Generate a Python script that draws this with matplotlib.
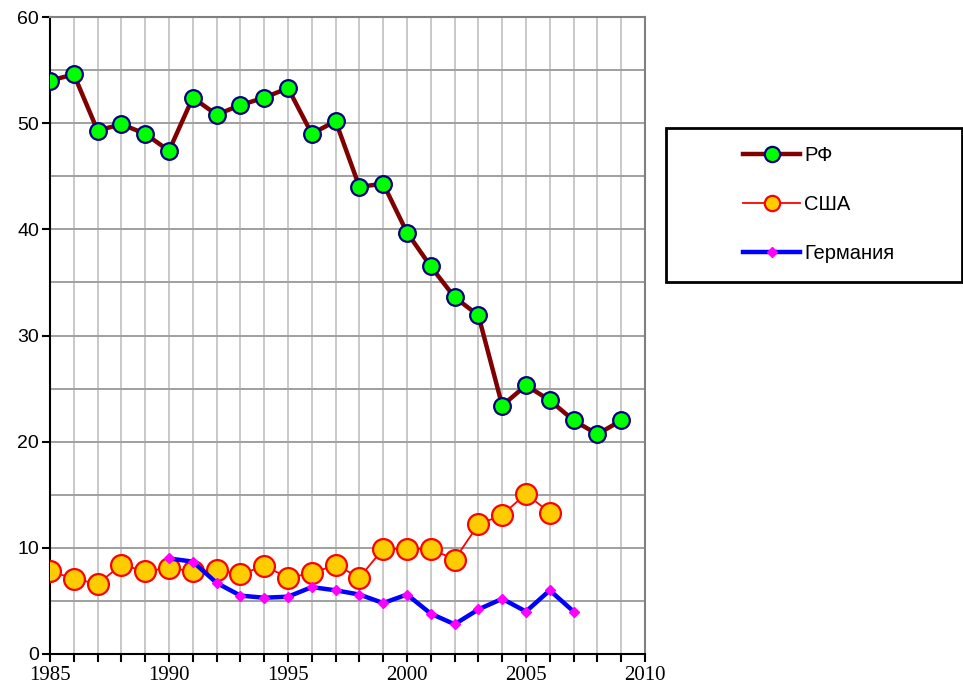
import matplotlib
matplotlib.use("Agg")
from matplotlib import pyplot as plt
from matplotlib.patches import Rectangle
from matplotlib.lines import Line2D

years_rf = list(range(1985, 2010))
rf = [54.0, 54.6, 49.3, 49.9, 49.0, 47.4, 52.4, 50.8, 51.7, 52.4, 53.3, 49.0,
      50.2, 44.0, 44.3, 39.7, 36.5, 33.6, 31.9, 23.4, 25.3, 23.9, 22.0, 20.7, 22.0]

years_usa = list(range(1985, 2007))
usa = [7.8, 7.1, 6.6, 8.4, 7.8, 8.1, 7.8, 7.9, 7.5, 8.3, 7.2, 7.6, 8.4, 7.2,
       9.9, 9.9, 9.9, 8.9, 12.2, 13.1, 15.1, 13.3]

years_de = list(range(1990, 2008))
de = [9.0, 8.7, 6.7, 5.5, 5.3, 5.4, 6.3, 6.0, 5.6, 4.8, 5.6, 3.8, 2.8, 4.2,
      5.2, 4.0, 6.0, 4.0]

labels = ["РФ", "США", "Германия"]

W, H = 963, 690
fig = plt.figure(figsize=(W / 100, H / 100), dpi=100)
ax = fig.add_axes([50 / W, 36 / H, 595 / W, 637 / H])

ax.set_xlim(1985, 2010)
ax.set_ylim(0, 60)

# grid
for yr in range(1986, 2010):
    ax.axvline(yr, color="#c0c0c0", lw=1.2, zorder=0)
for v in range(5, 60, 5):
    ax.axhline(v, color="#a0a0a0", lw=1.4, zorder=0)

ax.spines["top"].set_color("#808080")
ax.spines["right"].set_color("#808080")
ax.spines["top"].set_linewidth(1.5)
ax.spines["right"].set_linewidth(1.5)
ax.spines["left"].set_linewidth(1.5)
ax.spines["bottom"].set_linewidth(1.5)

ax.set_xticks(range(1985, 2011))
ax.set_xticklabels([str(y) if y % 5 == 0 else "" for y in range(1985, 2011)],
                   family="Liberation Serif", fontsize=15)
ax.set_yticks(range(0, 61, 10))
ax.set_yticklabels([str(v) for v in range(0, 61, 10)],
                   family="Liberation Sans", fontsize=14)
ax.tick_params(axis="both", direction="out", length=6, width=1.5, color="black")
ax.tick_params(axis="x", pad=3)
ax.tick_params(axis="y", pad=2)

ax.plot(years_usa, usa, color="red", lw=1.3, marker="o", ms=15,
        mfc="#ffcc00", mec="red", mew=1.6, zorder=3)
ax.plot(years_de, de, color="blue", lw=3.2, marker="D", ms=5.5,
        mfc="#ff00ff", mec="#ff00ff", zorder=4)
ax.plot(years_rf, rf, color="#800000", lw=3.2, marker="o", ms=12,
        mfc="#00ff00", mec="#000080", mew=1.6, zorder=5)

# legend box
fig.patches.append(Rectangle((666 / W, (H - 282) / H), 296 / W, 154 / H,
                             transform=fig.transFigure, fill=False,
                             edgecolor="black", lw=2))
handles = [
    Line2D([], [], color="#800000", lw=3.2, marker="o", ms=11,
           mfc="#00ff00", mec="#000080", mew=1.6),
    Line2D([], [], color="red", lw=1.3, marker="o", ms=11,
           mfc="#ffcc00", mec="red", mew=1.6),
    Line2D([], [], color="blue", lw=3.2, marker="D", ms=5.5,
           mfc="#ff00ff", mec="#ff00ff"),
]
fig.legend(handles, labels, loc="upper left",
           bbox_to_anchor=(743 / W, (H - 146) / H), frameon=False,
           prop={"family": "Liberation Sans", "size": 14.5},
           handlelength=2.85, handletextpad=0.2, labelspacing=1.5,
           borderpad=0, borderaxespad=0)

fig.savefig("out.png", dpi=100)
